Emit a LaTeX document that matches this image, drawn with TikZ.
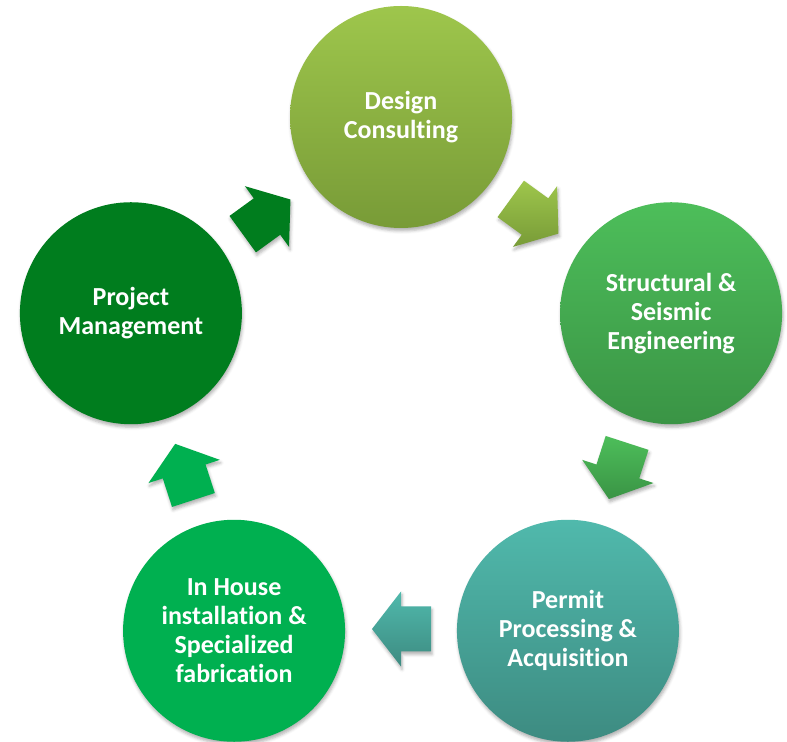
\documentclass[tikz,border=0pt]{standalone}
\usepackage{fontspec}
\setmainfont{Carlito}[Ligatures={NoCommon}]
\usetikzlibrary{calc,shadows.blur}
\definecolor{c1t}{HTML}{9EC64C}
\definecolor{c1b}{HTML}{789B37}
\definecolor{c2t}{HTML}{4DBE5A}
\definecolor{c2b}{HTML}{3A9445}
\definecolor{c3t}{HTML}{50B9AC}
\definecolor{c3b}{HTML}{3D8B81}
\definecolor{c4}{HTML}{00B050}
\definecolor{c5}{HTML}{007D1E}
\tikzset{
  softshadow/.style={blur shadow={shadow xshift=1bp, shadow yshift=-3bp, shadow blur radius=3bp, shadow opacity=30}},
  circ/.style={circle, minimum size=222bp, inner sep=0pt, align=center, text=white,
    font=\bfseries\fontsize{26bp}{29bp}\selectfont, softshadow},
}
% #1 coordinate (head base centre), #2 direction, #3 top colour, #4 bottom colour
\newcommand\blockarrow[4]{%
  \path[top color=#3, bottom color=#4, softshadow]
    ($(#1)+(#2:29)$) -- ($(#1)+(#2+90:37.5)$) -- ($(#1)+(#2+90:22.5)$)
    -- ($(#1)+(#2+90:22.5)+(#2+180:30)$) -- ($(#1)+(#2-90:22.5)+(#2+180:30)$)
    -- ($(#1)+(#2-90:22.5)$) -- ($(#1)+(#2-90:37.5)$) -- cycle;}
\begin{document}
\begin{tikzpicture}[x=1bp,y=1bp]
\useasboundingbox (0,0) rectangle (787,742);
\coordinate (P) at (401,341);
\node[circ, top color=c1t, bottom color=c1b] (c1) at ($(P)+(90:284)$) {Design\\Consulting};
\node[circ, top color=c2t, bottom color=c2b] (c2) at ($(P)+(18:284)$) {Structural \&\\Seismic\\Engineering};
\node[circ, top color=c3t, bottom color=c3b] (c3) at ($(P)+(-54:284)$) {Permit\\Processing \&\\Acquisition};
\node[circ, fill=c4] (c4) at ($(P)+(-126:284)$) {In House\\installation \&\\Specialized\\fabrication};
\node[circ, fill=c5] (c5) at ($(P)+(162:284)$) {Project\\Management};
\coordinate (a1) at ($(P)+(54:228)$);
\coordinate (a2) at ($(P)+(-18:228)$);
\coordinate (a3) at ($(P)+(-90:228)$);
\coordinate (a4) at ($(P)+(-162:228)$);
\coordinate (a5) at ($(P)+(126:228)$);
\blockarrow{a1}{-36}{c1t}{c1b}
\blockarrow{a2}{-108}{c2t}{c2b}
\blockarrow{a3}{180}{c3t}{c3b}
\blockarrow{a4}{108}{c4}{c4}
\blockarrow{a5}{36}{c5}{c5}
\end{tikzpicture}
\end{document}
